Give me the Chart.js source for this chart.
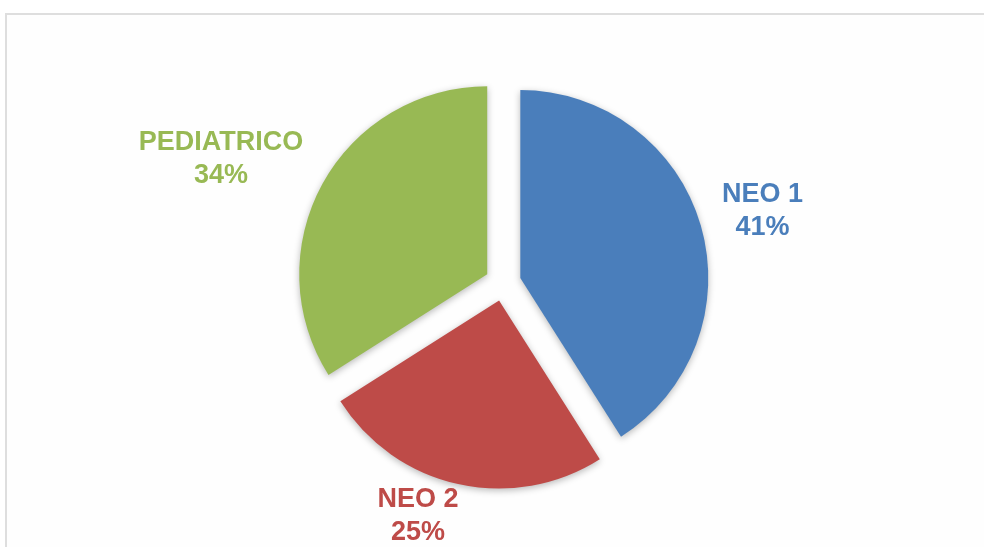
<!DOCTYPE html>
<html>
<head>
<meta charset="utf-8">
<script src="https://cdn.jsdelivr.net/npm/chart.js@4/dist/chart.umd.min.js"></script>
<style>
  html, body { margin: 0; padding: 0; background: #ffffff; }
  #wrap { position: relative; width: 984px; height: 547px; overflow: hidden; }
  #frame {
    position: absolute; left: 5px; top: 13px; right: -4px; bottom: -4px;
    border-top: 2px solid #dedede; border-left: 2px solid #dedede;
    background: #fefefe;
  }
  canvas { position: absolute; left: 0; top: 0; }
</style>
</head>
<body>
<div id="wrap">
  <div id="frame"></div>
  <canvas id="chart" width="984" height="547"></canvas>
</div>
<script>
// Units by service area and their share of the total (%)
const categories = ['NEO 1', 'NEO 2', 'PEDIATRICO'];
const shares = [41, 25, 34];
const sliceColors = ['#4a7ebb', '#be4b48', '#98b954'];

const EXPLODE = 18;   // how far every slice is pulled out from the centre (px)
const LABEL_FONT = 'bold 27px "Liberation Sans", Arial, Helvetica, sans-serif';
const LINE_H = 33;

// Pull each slice out along its bisector (same distance for every slice)
// and give the slices a soft drop shadow while they are drawn.
const explodedSlices = {
  id: 'explodedSlices',
  beforeDatasetDraw(chart) {
    const ctx = chart.ctx;
    chart.getDatasetMeta(0).data.forEach(arc => {
      const mid = (arc.startAngle + arc.endAngle) / 2;
      arc._baseX = arc.x;
      arc._baseY = arc.y;
      arc.x += Math.cos(mid) * EXPLODE;
      arc.y += Math.sin(mid) * EXPLODE;
    });
    ctx.save();
    ctx.shadowColor = 'rgba(0,0,0,0.28)';
    ctx.shadowBlur = 7;
    ctx.shadowOffsetX = 0;
    ctx.shadowOffsetY = 2;
  },
  afterDatasetDraw(chart) {
    chart.ctx.restore();
    chart.getDatasetMeta(0).data.forEach(arc => {
      arc.x = arc._baseX;
      arc.y = arc._baseY;
    });
  }
};

// Two-line labels (name + percentage) placed outside each slice
const outsideLabels = {
  id: 'outsideLabels',
  afterDatasetsDraw(chart, args, opts) {
    const ctx = chart.ctx;
    const meta = chart.getDatasetMeta(0);
    const gap = opts.gap;
    ctx.save();
    ctx.font = LABEL_FONT;
    ctx.textAlign = 'center';
    ctx.textBaseline = 'middle';
    meta.data.forEach((arc, i) => {
      const p = arc.getProps(['x', 'y', 'startAngle', 'endAngle', 'outerRadius'], true);
      const mid = (p.startAngle + p.endAngle) / 2;
      const dx = Math.cos(mid), dy = Math.sin(mid);
      const dist = p.outerRadius + EXPLODE + gap;
      const ax = p.x + dx * dist;
      const ay = p.y + dy * dist;
      const lines = [categories[i], shares[i] + '%'];
      const w = Math.max(...lines.map(t => ctx.measureText(t).width));
      const h = 60;
      let cx = ax + (w / 2) * Math.max(-1, Math.min(1, dx * 4));
      let cy = ay + (h / 2) * dy;
      // keep the label inside the canvas
      cy = Math.min(cy, chart.height - h / 2 - 1);
      cy = Math.max(cy, h / 2);
      ctx.fillStyle = sliceColors[i];
      ctx.fillText(lines[0], cx, cy - LINE_H / 2);
      ctx.fillText(lines[1], cx, cy + LINE_H / 2);
    });
    ctx.restore();
  }
};

new Chart(document.getElementById('chart'), {
  type: 'pie',
  data: {
    labels: categories,
    datasets: [{
      data: shares,
      backgroundColor: sliceColors,
      borderWidth: 0,
      offset: 0,
      hoverOffset: 0
    }]
  },
  options: {
    responsive: false,
    animation: false,
    radius: 188,
    layout: { padding: { left: 22, right: 0, top: 40, bottom: 21 } },
    events: [],
    plugins: {
      legend: { display: false },
      tooltip: { enabled: false },
      outsideLabels: { gap: 22 }
    }
  },
  plugins: [explodedSlices, outsideLabels]
});
</script>
</body>
</html>
